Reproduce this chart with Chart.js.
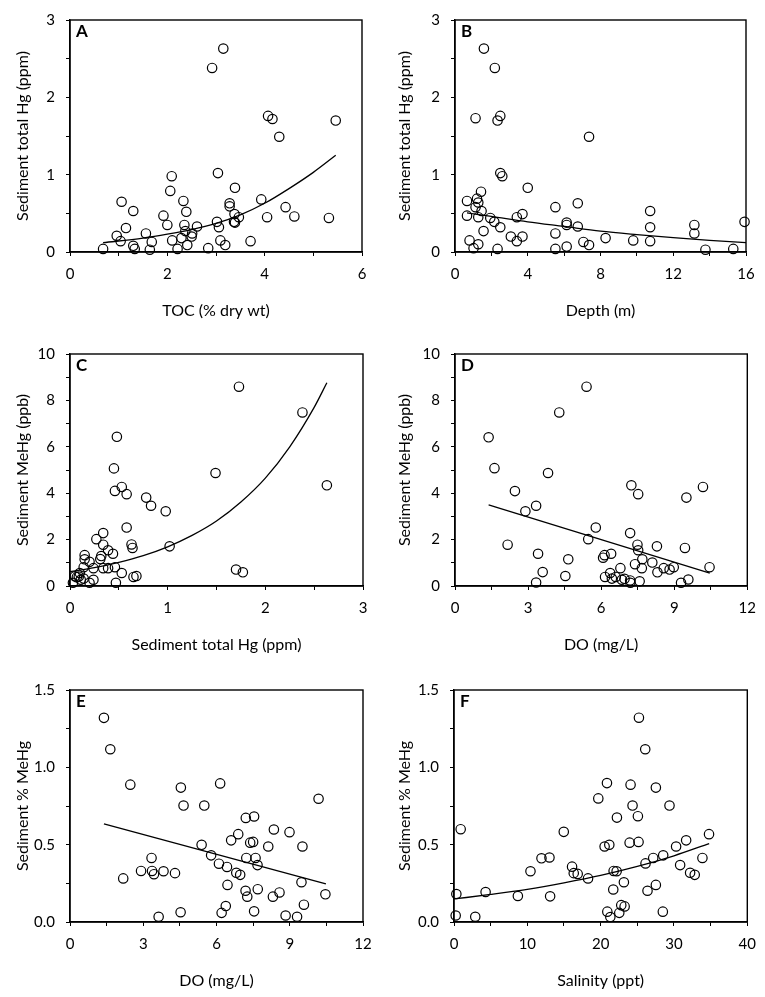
<!DOCTYPE html>
<html>
<head>
<meta charset="utf-8">
<title>Sediment Hg panels</title>
<script src="https://cdn.jsdelivr.net/npm/chart.js@4.4.1/dist/chart.umd.min.js"></script>
<style>
  html, body { margin: 0; padding: 0; background: #fff; }
  body { width: 765px; height: 997px; overflow: hidden; position: relative; }
  .panel { position: absolute; }
</style>
</head>
<body>
<div class="panel" style="left:0px;top:0px"><canvas id="chartA" width="382" height="335"></canvas></div>
<div class="panel" style="left:382px;top:0px"><canvas id="chartB" width="383" height="335"></canvas></div>
<div class="panel" style="left:0px;top:334px"><canvas id="chartC" width="382" height="335"></canvas></div>
<div class="panel" style="left:382px;top:334px"><canvas id="chartD" width="383" height="335"></canvas></div>
<div class="panel" style="left:0px;top:670px"><canvas id="chartE" width="382" height="335"></canvas></div>
<div class="panel" style="left:382px;top:670px"><canvas id="chartF" width="383" height="335"></canvas></div>
<script>
// A: total Hg vs TOC
const xA = [0.68,0.96,1.04,1.06,1.15,1.30,1.30,1.33,1.56,1.64,1.68,1.92,2.00,2.06,2.09,2.10,2.21,2.29,2.33,2.35,2.37,2.39,2.41,2.50,2.51,2.61,2.84,2.92,3.02,3.04,3.06,3.09,3.15,3.19,3.28,3.28,3.37,3.38,3.39,3.39,3.47,3.71,3.93,4.05,4.07,4.16,4.30,4.43,4.61,5.32,5.46];
const yA = [0.04,0.21,0.14,0.65,0.31,0.53,0.08,0.04,0.24,0.03,0.13,0.47,0.35,0.79,0.98,0.15,0.04,0.18,0.66,0.35,0.27,0.52,0.09,0.20,0.24,0.33,0.05,2.38,0.39,1.02,0.32,0.15,2.63,0.09,0.59,0.63,0.39,0.49,0.83,0.38,0.45,0.14,0.68,0.45,1.76,1.72,1.49,0.58,0.46,0.44,1.70];
const trendAx = [0.68,1.5,2,2.5,3,3.5,4,4.5,5,5.46];
const trendAy = [0.12,0.18,0.23,0.29,0.37,0.48,0.63,0.82,1.03,1.25];

// B: total Hg vs depth
const xB = [0.66,0.66,0.80,1.02,1.13,1.13,1.21,1.28,1.28,1.28,1.43,1.46,1.57,1.59,1.94,2.16,2.19,2.34,2.34,2.49,2.49,2.49,2.60,3.07,3.40,3.40,3.71,3.71,4.00,5.52,5.52,5.52,6.14,6.14,6.14,6.75,6.75,7.06,7.37,7.37,8.28,9.80,10.73,10.73,10.73,13.16,13.16,13.77,15.30,15.92];
const yB = [0.66,0.47,0.15,0.05,1.73,0.58,0.69,0.64,0.45,0.10,0.78,0.53,0.27,2.63,0.44,0.39,2.38,1.70,0.04,1.76,0.32,1.02,0.98,0.20,0.45,0.14,0.20,0.49,0.83,0.58,0.24,0.04,0.38,0.35,0.07,0.63,0.33,0.13,1.49,0.09,0.18,0.15,0.53,0.32,0.14,0.35,0.24,0.03,0.04,0.39];
const trendBx = [0.66,2,4,6,8,10,12,14,16];
const trendBy = [0.505,0.46,0.39,0.33,0.27,0.225,0.185,0.15,0.122];

// C: MeHg vs total Hg
const xC = [0.03,0.05,0.07,0.09,0.10,0.11,0.14,0.14,0.15,0.15,0.20,0.20,0.24,0.24,0.27,0.31,0.32,0.34,0.34,0.34,0.39,0.39,0.44,0.45,0.46,0.46,0.47,0.48,0.53,0.53,0.58,0.58,0.63,0.64,0.65,0.68,0.78,0.83,0.98,1.02,1.49,1.70,1.73,1.77,2.38,2.63];
const yC = [0.14,0.42,0.38,0.41,0.56,0.27,0.32,0.81,1.33,1.15,0.14,1.04,0.27,0.77,2.02,1.16,1.29,2.28,1.78,0.77,0.77,1.54,1.39,5.07,4.10,0.81,0.14,6.43,0.56,4.27,3.96,2.52,1.79,1.64,0.39,0.43,3.81,3.46,3.22,1.71,4.87,0.71,8.59,0.59,7.48,4.34];
const trendCx = [0,0.25,0.5,0.75,1,1.25,1.5,1.75,2,2.25,2.5,2.63];
const trendCy = [0.62,0.79,1.02,1.31,1.69,2.18,2.80,3.62,4.65,6.0,7.7,8.76];

// D: MeHg vs DO
const xD = [1.38,1.62,2.16,2.46,2.89,3.33,3.33,3.41,3.60,3.82,4.28,4.53,4.65,5.40,5.47,5.78,6.08,6.14,6.16,6.37,6.41,6.44,6.60,6.79,6.85,6.96,7.19,7.19,7.20,7.24,7.39,7.49,7.52,7.52,7.58,7.67,7.69,8.10,8.29,8.31,8.57,8.81,8.98,9.28,9.44,9.50,9.58,10.18,10.45];
const yD = [6.41,5.08,1.78,4.09,3.22,3.46,0.15,1.39,0.60,4.87,7.48,0.43,1.15,8.59,2.02,2.52,1.22,1.33,0.39,0.56,1.39,0.32,0.39,0.77,0.27,0.31,2.28,0.24,0.14,4.34,0.94,1.78,1.54,3.96,0.20,0.77,1.15,1.01,1.71,0.59,0.77,0.71,0.81,0.14,1.64,3.81,0.28,4.27,0.81];
const trendDx = [1.38,10.46];
const trendDy = [3.50,0.55];

// E: % MeHg vs DO
const xE = [1.39,1.65,2.18,2.47,2.91,3.34,3.36,3.44,3.63,3.83,4.30,4.53,4.54,4.65,5.39,5.50,5.78,6.10,6.15,6.21,6.38,6.43,6.45,6.60,6.81,6.89,6.97,7.19,7.20,7.22,7.26,7.38,7.50,7.54,7.54,7.60,7.68,7.69,8.12,8.31,8.35,8.58,8.83,8.99,9.30,9.48,9.52,9.58,10.18,10.46];
const yE = [1.32,1.117,0.282,0.888,0.330,0.414,0.330,0.309,0.034,0.328,0.316,0.063,0.869,0.753,0.499,0.753,0.431,0.377,0.896,0.059,0.103,0.356,0.240,0.528,0.318,0.568,0.305,0.202,0.673,0.414,0.164,0.513,0.518,0.682,0.069,0.414,0.368,0.212,0.488,0.164,0.598,0.191,0.042,0.581,0.034,0.257,0.488,0.112,0.797,0.179];
const trendEx = [1.39,10.48];
const trendEy = [0.635,0.246];

// F: % MeHg vs salinity
const xF = [0.23,0.32,0.91,2.90,4.31,8.71,10.43,11.93,13.02,13.11,14.97,16.10,16.33,16.87,18.28,19.68,20.54,20.86,20.91,21.18,21.32,21.72,21.77,22.18,22.22,22.54,22.81,23.17,23.27,23.95,24.08,24.35,25.08,25.17,25.22,26.08,26.12,26.39,27.17,27.53,27.53,28.48,28.53,29.39,30.29,30.84,31.66,32.20,32.83,33.88,34.78];
const yF = [0.042,0.181,0.600,0.034,0.194,0.168,0.328,0.412,0.417,0.166,0.583,0.358,0.316,0.311,0.282,0.799,0.488,0.898,0.067,0.499,0.032,0.210,0.330,0.328,0.675,0.059,0.109,0.257,0.101,0.513,0.888,0.753,0.684,0.518,1.321,1.117,0.379,0.202,0.414,0.869,0.240,0.067,0.431,0.753,0.488,0.368,0.528,0.318,0.305,0.414,0.568];
const trendFx = [0,5,10,15,20,25,30,34.8];
const trendFy = [0.149,0.178,0.211,0.253,0.301,0.359,0.428,0.507];

const FONT = 'Lato';
Chart.defaults.font.family = FONT;
Chart.defaults.font.size = 15;
Chart.defaults.color = '#000';

function toPoints(xs, ys) {
    let pts = [];
    for (let i = 0; i < xs.length; i++) {
        pts.push({x: xs[i], y: ys[i]});
    }
    return pts;
}

// only label the major ticks, minor ones keep their tick mark
function tickLabel(major, digits) {
    return function (value) {
        let r = value / major;
        if (Math.abs(r - Math.round(r)) > 1e-6) return '';
        return digits ? value.toFixed(digits) : String(Math.round(value));
    };
}

// box round the plot area + panel letter
const framePlugin = {
    id: 'frame',
    afterDraw(chart, args, opts) {
        const ctx = chart.ctx;
        const a = chart.chartArea;
        ctx.save();
        ctx.strokeStyle = '#000';
        ctx.lineWidth = 1.4;
        ctx.strokeRect(a.left, a.top, a.right - a.left, a.bottom - a.top);
        ctx.fillStyle = '#000';
        ctx.font = 'bold 17px ' + FONT;
        ctx.textBaseline = 'top';
        ctx.textAlign = 'left';
        ctx.fillText(opts.letter, a.left + 6, a.top + 3);
        ctx.restore();
    }
};

function makePanel(id, letter, xs, ys, tx, ty, ax) {
    const axisLeft = ax.yWidth;
    return new Chart(document.getElementById(id), {
        type: 'scatter',
        data: {
            datasets: [
                {
                    data: toPoints(xs, ys),
                    pointRadius: 4.7,
                    pointBorderWidth: 1.2,
                    borderColor: '#000',
                    backgroundColor: 'rgba(255,255,255,0)',
                    clip: false
                },
                {
                    data: toPoints(tx, ty),
                    showLine: true,
                    pointRadius: 0,
                    borderColor: '#000',
                    borderWidth: 1.3,
                    cubicInterpolationMode: 'monotone',
                    fill: false
                }
            ]
        },
        options: {
            responsive: false,
            animation: false,
            events: [],
            layout: { padding: { top: 14, right: ax.right, left: 0, bottom: 0 } },
            plugins: {
                legend: { display: false },
                tooltip: { enabled: false },
                frame: { letter: letter }
            },
            scales: {
                x: {
                    type: 'linear',
                    min: ax.xMin, max: ax.xMax,
                    afterFit: function (s) { s.height = 83; },
                    ticks: {
                        stepSize: ax.xStep,
                        autoSkip: false,
                        maxRotation: 0,
                        padding: 9,
                        callback: tickLabel(ax.xMajor, 0)
                    },
                    grid: { drawOnChartArea: false, drawTicks: true, tickLength: 4, color: '#000' },
                    border: { display: true, color: '#000', width: 1.4 },
                    title: { display: true, text: ax.xTitle, font: { size: 16 }, padding: { top: 0, bottom: 15 } }
                },
                y: {
                    type: 'linear',
                    min: ax.yMin, max: ax.yMax,
                    afterFit: function (s) { s.width = axisLeft; },
                    ticks: {
                        stepSize: ax.yStep,
                        autoSkip: false,
                        padding: 11,
                        callback: tickLabel(ax.yMajor, ax.yDigits)
                    },
                    grid: { drawOnChartArea: false, drawTicks: true, tickLength: 4, color: '#000' },
                    border: { display: true, color: '#000', width: 1.4 },
                    title: { display: true, text: ax.yTitle, font: { size: 16 }, padding: { top: 13, bottom: 0 } }
                }
            }
        },
        plugins: [framePlugin]
    });
}

makePanel('chartA', 'A', xA, yA, trendAx, trendAy, {
    xMin: 0, xMax: 6, xStep: 1, xMajor: 2, xTitle: 'TOC (% dry wt)',
    yMin: 0, yMax: 3, yStep: 0.5, yMajor: 1, yDigits: 0, yTitle: 'Sediment total Hg (ppm)',
    yWidth: 70, right: 20
});
makePanel('chartB', 'B', xB, yB, trendBx, trendBy, {
    xMin: 0, xMax: 16, xStep: 2, xMajor: 4, xTitle: 'Depth (m)',
    yMin: 0, yMax: 3, yStep: 0.5, yMajor: 1, yDigits: 0, yTitle: 'Sediment total Hg (ppm)',
    yWidth: 73, right: 19
});
makePanel('chartC', 'C', xC, yC, trendCx, trendCy, {
    xMin: 0, xMax: 3, xStep: 0.5, xMajor: 1, xTitle: 'Sediment total Hg (ppm)',
    yMin: 0, yMax: 10, yStep: 1, yMajor: 2, yDigits: 0, yTitle: 'Sediment MeHg (ppb)',
    yWidth: 70, right: 19
});
makePanel('chartD', 'D', xD, yD, trendDx, trendDy, {
    xMin: 0, xMax: 12, xStep: 1.5, xMajor: 3, xTitle: 'DO (mg/L)',
    yMin: 0, yMax: 10, yStep: 1, yMajor: 2, yDigits: 0, yTitle: 'Sediment MeHg (ppb)',
    yWidth: 73, right: 17
});
makePanel('chartE', 'E', xE, yE, trendEx, trendEy, {
    xMin: 0, xMax: 12, xStep: 1.5, xMajor: 3, xTitle: 'DO (mg/L)',
    yMin: 0, yMax: 1.5, yStep: 0.25, yMajor: 0.5, yDigits: 1, yTitle: 'Sediment % MeHg',
    yWidth: 70, right: 19
});
makePanel('chartF', 'F', xF, yF, trendFx, trendFy, {
    xMin: 0, xMax: 40, xStep: 5, xMajor: 10, xTitle: 'Salinity (ppt)',
    yMin: 0, yMax: 1.5, yStep: 0.25, yMajor: 0.5, yDigits: 1, yTitle: 'Sediment % MeHg',
    yWidth: 72, right: 17
});
</script>
</body>
</html>
